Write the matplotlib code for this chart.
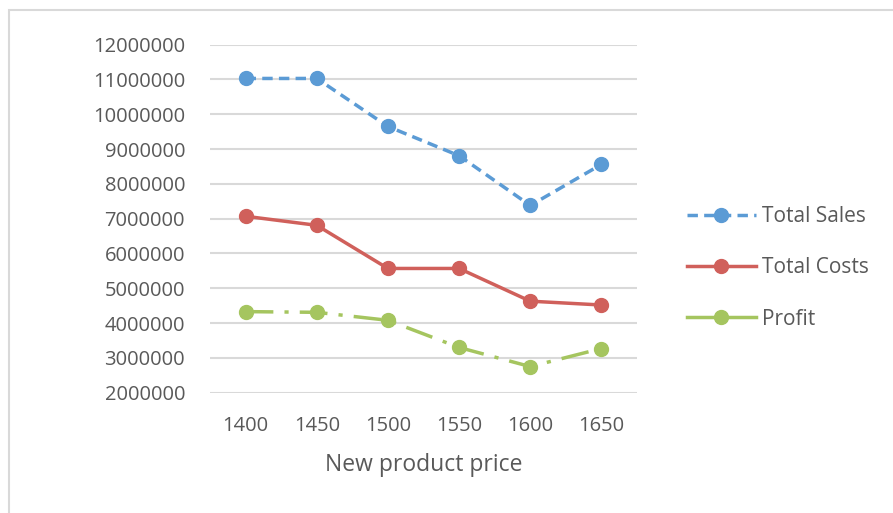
import matplotlib

matplotlib.use("Agg")
import matplotlib.pyplot as plt
from matplotlib.lines import Line2D
from matplotlib.patches import Rectangle

plt.rcParams["font.family"] = ["Open Sans", "DejaVu Sans"]

##DATA
prices = ["1400", "1450", "1500", "1550", "1600", "1650"]
total_sales = [11030000, 11030000, 9650000, 8810000, 7380000, 8560000]
total_costs = [7070000, 6810000, 5570000, 5570000, 4630000, 4520000]
profit = [4330000, 4310000, 4080000, 3300000, 2750000, 3270000]
y_ticks = [2000000, 3000000, 4000000, 5000000, 6000000, 7000000,
           8000000, 9000000, 10000000, 11000000, 12000000]

blue = "#5B9BD5"
red = "#D0605B"
green = "#A5C55F"
text_grey = "#595959"

fig = plt.figure(figsize=(8.93, 5.13), dpi=100)
fig.patches.append(Rectangle((9 / 893, -0.1), 1.2, 1 - 10 / 513 + 0.1,
                             transform=fig.transFigure, fill=False,
                             edgecolor="#D9D9D9", linewidth=1.5))

ax = fig.add_axes([210 / 893, 1 - 392.7 / 513, 427 / 893, 348 / 513])
x = range(len(prices))

ax.plot(x, total_sales, color=blue, lw=2.5, dashes=(3, 1.8),
        marker="o", markersize=10, label="Total Sales")
ax.plot(x, total_costs, color=red, lw=2.5,
        marker="o", markersize=10, label="Total Costs")
ax.plot(x, profit, color=green, lw=2.5, dashes=(8, 3.2, 1.2, 3.2),
        marker="o", markersize=10, label="Profit")

ax.set_xlim(-0.5, len(prices) - 0.5)
ax.set_ylim(2000000, 12000000)
ax.set_xticks(list(x))
ax.set_xticklabels(prices)
ax.set_yticks(y_ticks)
ax.set_yticklabels([str(v) for v in y_ticks])
ax.tick_params(length=0, labelsize=14.5, colors=text_grey, pad=18)
ax.tick_params(axis="x", pad=17)
ax.grid(axis="y", color="#D9D9D9", lw=1.5)
ax.set_axisbelow(True)
for s in ax.spines.values():
    s.set_visible(False)
ax.set_xlabel("New product price", fontsize=16.5, color=text_grey, labelpad=12)

# legend keys drawn by hand so the profit key shows a plain line
handles = [
    Line2D([], [], color=blue, lw=2.5, dashes=(3, 1.8), marker="o", markersize=10),
    Line2D([], [], color=red, lw=2.5, marker="o", markersize=10),
    Line2D([], [], color=green, lw=2.5, marker="o", markersize=10),
]
fig.legend(handles, ["Total Sales", "Total Costs", "Profit"],
           loc="center left", bbox_to_anchor=(668 / 893, 1 - 268 / 513),
           frameon=False, fontsize=15, handlelength=3.3,
           labelspacing=1.45, handletextpad=0.3, labelcolor=text_grey)

fig.savefig("out.png", dpi=100, facecolor="white")
